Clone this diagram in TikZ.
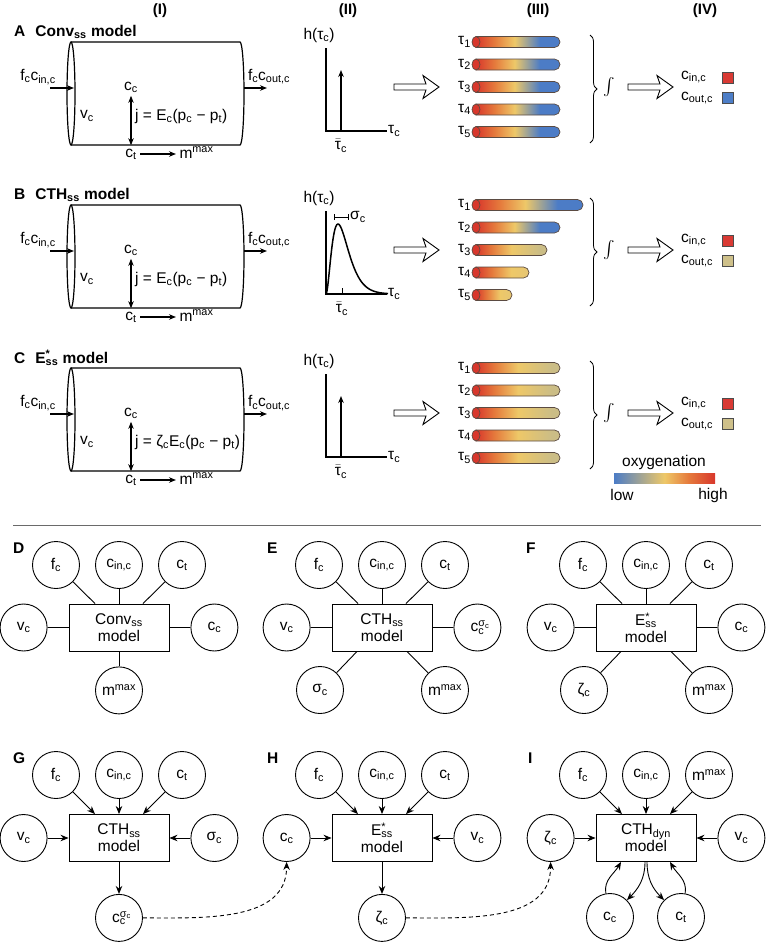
\documentclass[tikz,border=0pt]{standalone}
\usepackage{amsmath}
\usepackage{fontspec}
\setmainfont{Liberation Sans}
\usetikzlibrary{arrows.meta,positioning,calc,decorations.pathreplacing}
\definecolor{tubered}{HTML}{D8372C}
\definecolor{tubeorange}{HTML}{E57A3C}
\definecolor{tubeyellow}{HTML}{EEC868}
\definecolor{tubelight}{HTML}{E6C673}
\definecolor{tubeblue}{HTML}{4C7CC6}
\definecolor{tubekhaki}{HTML}{CBBD86}
\definecolor{tubeedge}{HTML}{5B4B42}
\definecolor{swatchred}{HTML}{D93A34}
\definecolor{swatchblue}{HTML}{4D7EC7}
\definecolor{swatchkhaki}{HTML}{CEC08A}
\definecolor{rulegray}{HTML}{6A6A6A}
\newcommand{\subtxt}[1]{\textsubscript{#1}}
\newcommand{\suptxt}[1]{\textsuperscript{#1}}
\newcommand{\supsub}[2]{\rlap{\textsuperscript{#1}}\textsubscript{#2}}
\newcommand{\taubar}{\ensuremath{\bar{\text{τ}}}}
\pgfdeclarehorizontalshading{tubetoblue}{100bp}{color(0bp)=(tubered); color(25bp)=(tubered); color(36bp)=(tubeorange); color(48bp)=(tubeyellow); color(63bp)=(tubeblue); color(100bp)=(tubeblue)}
\pgfdeclarehorizontalshading{tubetokhaki}{100bp}{color(0bp)=(tubered); color(25bp)=(tubered); color(36bp)=(tubeorange); color(50bp)=(tubeyellow); color(70bp)=(tubekhaki); color(100bp)=(tubekhaki)}
\pgfdeclarehorizontalshading{tubetoyellow}{100bp}{color(0bp)=(tubered); color(25bp)=(tubered); color(40bp)=(tubeorange); color(58bp)=(tubeyellow); color(75bp)=(tubelight); color(100bp)=(tubelight)}
\pgfdeclarehorizontalshading{oxyscale}{100bp}{color(0bp)=(tubeblue); color(25bp)=(tubeblue); color(50bp)=(tubeyellow); color(62bp)=(tubeorange); color(75bp)=(tubered); color(100bp)=(tubered)}
\tikzset{
  colhead/.style={font=\bfseries\fontsize{15}{17}\selectfont},
  paneltag/.style={anchor=west, inner sep=0pt, font=\bfseries\fontsize{15.5}{18}\selectfont},
  cylline/.style={line width=1.2pt},
  flow/.style={-{Stealth[length=7pt,width=5.5pt]}, line width=1.1pt},
  exchange/.style={{Stealth[length=7pt,width=5.5pt]}-{Stealth[length=7pt,width=5.5pt]}, line width=1.1pt},
  axisline/.style={line width=1.1pt},
  tubeshape/.style={draw=tubeedge, line width=0.7pt},
  swatch/.style={draw=black!70, line width=0.6pt, minimum size=11pt, inner sep=0pt},
  varnode/.style={circle, draw, line width=0.9pt, minimum size=47pt, inner sep=0pt},
  modelbox/.style={draw, line width=0.9pt, minimum width=100pt, minimum height=47pt, align=center, inner sep=2pt},
  link/.style={line width=0.9pt},
  feed/.style={link, -{Stealth[length=8pt,width=6.5pt]}},
  relay/.style={feed, dash pattern=on 4pt off 3pt},
  hollowarrow/.pic={
    \draw[line width=0.9pt, fill=white, line join=miter]
      (0,3) -- (32,3) -- (29,11.5) -- (45,0) -- (29,-11.5) -- (32,-3) -- (0,-3) -- cycle;
  }
}

\begin{document}
\begin{tikzpicture}[x=1pt, y=1pt, font=\fontsize{15.5}{17}\selectfont]
\useasboundingbox (0,0) rectangle (766,-943);

% column heads
\foreach \hx/\hname in {160/I,348/II,538/III,705/IV}
  \node[colhead] (head\hname) at (\hx,-11) {(\hname)};

% rows A-C
\foreach \rowtag/\dy/\title/\flux/\tubes/\outcol in {
  A/0/{Conv\subtxt{ss} model}/{j = E\subtxt{c}(p\subtxt{c} − p\subtxt{t})}/{560/tubetoblue,560/tubetoblue,560/tubetoblue,560/tubetoblue,560/tubetoblue}/swatchblue,
  B/-163/{CTH\subtxt{ss} model}/{j = E\subtxt{c}(p\subtxt{c} − p\subtxt{t})}/{583/tubetoblue,560/tubetoblue,547/tubetokhaki,529/tubetoyellow,512/tubetoyellow}/swatchkhaki,
  C/-326/{E\supsub{*}{ss} model}/{j = ζ\subtxt{c}E\subtxt{c}(p\subtxt{c} − p\subtxt{t})}/{560/tubetokhaki,560/tubetokhaki,560/tubetokhaki,560/tubetokhaki,560/tubetokhaki}/swatchkhaki}{
\begin{scope}[yshift=\dy pt]
  \node[paneltag] (tag\rowtag) at (14,-32) {\rowtag\hspace{10pt}\title};
  % (I) vessel
  \draw[cylline] (71,-42) -- (240,-42) arc[start angle=90, end angle=-90, x radius=4, y radius=51.5] -- (71,-145);
  \draw[cylline] (71,-93.5) ellipse[x radius=4, y radius=51.5];
  \node (in\rowtag) at (38,-77) {f\subtxt{c}c\subtxt{in,c}};
  \coordinate (inS\rowtag) at (50,-88);
  \coordinate (inE\rowtag) at (74,-88);
  \draw[flow] (inS\rowtag) -- (inE\rowtag);
  \node (out\rowtag) at (269,-77) {f\subtxt{c}c\subtxt{out,c}};
  \coordinate (outS\rowtag) at (244,-88);
  \coordinate (outE\rowtag) at (267,-88);
  \draw[flow] (outS\rowtag) -- (outE\rowtag);
  \node (vc\rowtag) at (87,-116) {v\subtxt{c}};
  \node (cc\rowtag) at (131,-87) {c\subtxt{c}};
  \node (ct\rowtag) at (131,-154) {c\subtxt{t}};
  \draw[exchange] (cc\rowtag) -- (ct\rowtag);
  \node[anchor=west, inner sep=1pt] (flux\rowtag) at (134,-116) {\flux};
  \node[anchor=base west] (mm\rowtag) at (176,-158) {m\suptxt{max}};
  \draw[flow] (ct\rowtag.east) -- (ct\rowtag.east -| mm\rowtag.west);
  % (II) axes
  \node (h\rowtag) at (319,-35) {h(τ\subtxt{c})};
  \draw[axisline] (326,-48) -- (326,-131) -- (387,-131);
  \node[anchor=west, inner sep=1pt] (tauc\rowtag) at (387,-131) {τ\subtxt{c}};
  \pic at (394,-87) {hollowarrow};
  % (III) tubes
  \foreach \tx/\tshade [count=\i] in \tubes {
    \pgfmathsetmacro{\ty}{-42-22.5*(\i-1)}
    \shadedraw[tubeshape, shading=\tshade] (476,\ty+5.5) -- (\tx-5.5,\ty+5.5)
      arc[start angle=90, end angle=-90, radius=5.5] -- (476,\ty-5.5) -- cycle;
    \filldraw[tubeshape, fill=tubered] (476,\ty) ellipse[x radius=4, y radius=5.5];
    \node[anchor=east, inner sep=1pt] (tau\rowtag\i) at (472,\ty) {τ\subtxt{\i}};
  }
  \draw[line width=0.8pt, decorate, decoration={brace, amplitude=7pt}] (590,-35) -- (590,-143);
  \node[font=\fontsize{19}{20}\selectfont] (int\rowtag) at (609,-87) {$\int$};
  \pic at (628,-87) {hollowarrow};
  % (IV) outcome
  \node[anchor=west, inner sep=0pt] (cin\rowtag) at (681,-77) {c\subtxt{in,c}};
  \node[swatch, fill=swatchred] (sqin\rowtag) at (728,-77.5) {};
  \node[anchor=west, inner sep=0pt] (cout\rowtag) at (681,-98) {c\subtxt{out,c}};
  \node[swatch, fill=\outcol] (sqout\rowtag) at (728,-98) {};
\end{scope}
}

% transit time densities
\foreach \rowtag/\dy in {A/0,C/-326} {
\begin{scope}[yshift=\dy pt]
  \draw[flow] (341,-131) -- (341,-70);
  \node (mean\rowtag) at (341,-146) {\taubar\subtxt{c}};
\end{scope}
}
\begin{scope}[yshift=-163pt]
  \draw[line width=1.5pt, domain=0:62, samples=70, smooth]
    plot ({326+\x}, {-131+70*(\x/12)^2*exp(2-\x/6)});
  \draw[line width=0.9pt, {Bar[width=6pt]}-{Bar[width=6pt]}] (334,-54) -- (349,-54);
  \node[anchor=west, inner sep=1pt] (sigB) at (349,-54) {σ\subtxt{c}};
  \draw[line width=0.9pt] (342,-131) -- (342,-125);
  \node (meanB) at (342,-146) {\taubar\subtxt{c}};
\end{scope}

% oxygenation scale
\shade[shading=oxyscale] (614,-473) rectangle (715,-483);
\node (oxy) at (664,-462) {oxygenation};
\node (low) at (622,-495) {low};
\node (high) at (713,-495) {high};

\draw[rulegray, line width=1pt] (13,-525) -- (761,-525);

% D
\node[paneltag] (tagD) at (13,-548) {D};
\node[modelbox] (Dbox) at (119,-627.5) {Conv\subtxt{ss}\\model};
\node[varnode] (Dfc) at ($(Dbox)+(-63,62.5)$) {f\subtxt{c}};
\node[varnode] (Dcin) at ($(Dbox)+(0,62.5)$) {c\subtxt{in,c}};
\node[varnode] (Dct) at ($(Dbox)+(63,62.5)$) {c\subtxt{t}};
\node[varnode, left=21pt of Dbox] (Dvc) {v\subtxt{c}};
\node[varnode, right=21pt of Dbox] (Dcc) {c\subtxt{c}};
\node[varnode, below=15pt of Dbox] (Dmm) {m\suptxt{max}};
\foreach \n/\dx in {Dfc/-24,Dcin/0,Dct/24}
  \draw[link] (\n) -- ([xshift=\dx pt]Dbox.north);
\foreach \n in {Dvc,Dcc,Dmm}
  \draw[link] (\n) -- (Dbox);

% E
\node[paneltag] (tagE) at (267,-548) {E};
\node[modelbox] (Ebox) at (382,-627.5) {CTH\subtxt{ss}\\model};
\node[varnode] (Efc) at ($(Ebox)+(-63,62.5)$) {f\subtxt{c}};
\node[varnode] (Ecin) at ($(Ebox)+(0,62.5)$) {c\subtxt{in,c}};
\node[varnode] (Ect) at ($(Ebox)+(63,62.5)$) {c\subtxt{t}};
\node[varnode, left=21pt of Ebox] (Evc) {v\subtxt{c}};
\node[varnode, right=21pt of Ebox] (Ecs) {c\supsub{σ\subtxt{c}}{c}};
\node[varnode] (Esig) at ($(Ebox)+(-62,-62.5)$) {σ\subtxt{c}};
\node[varnode] (Emm) at ($(Ebox)+(63,-62.5)$) {m\suptxt{max}};
\foreach \n/\dx in {Efc/-24,Ecin/0,Ect/24}
  \draw[link] (\n) -- ([xshift=\dx pt]Ebox.north);
\foreach \n/\dx in {Esig/-25,Emm/25}
  \draw[link] (\n) -- ([xshift=\dx pt]Ebox.south);
\foreach \n in {Evc,Ecs}
  \draw[link] (\n) -- (Ebox);

% F
\node[paneltag] (tagF) at (526,-548) {F};
\node[modelbox] (Fbox) at (646,-627.5) {E\supsub{*}{ss}\\model};
\node[varnode] (Ffc) at ($(Fbox)+(-63,62.5)$) {f\subtxt{c}};
\node[varnode] (Fcin) at ($(Fbox)+(0,62.5)$) {c\subtxt{in,c}};
\node[varnode] (Fct) at ($(Fbox)+(63,62.5)$) {c\subtxt{t}};
\node[varnode, left=21pt of Fbox] (Fvc) {v\subtxt{c}};
\node[varnode, right=21pt of Fbox] (Fcc) {c\subtxt{c}};
\node[varnode] (Fzc) at ($(Fbox)+(-62,-62.5)$) {ζ\subtxt{c}};
\node[varnode] (Fmm) at ($(Fbox)+(63,-62.5)$) {m\suptxt{max}};
\foreach \n/\dx in {Ffc/-24,Fcin/0,Fct/24}
  \draw[link] (\n) -- ([xshift=\dx pt]Fbox.north);
\foreach \n/\dx in {Fzc/-25,Fmm/25}
  \draw[link] (\n) -- ([xshift=\dx pt]Fbox.south);
\foreach \n in {Fvc,Fcc}
  \draw[link] (\n) -- (Fbox);

% G
\node[paneltag] (tagG) at (13,-758) {G};
\node[modelbox] (Gbox) at (119,-838) {CTH\subtxt{ss}\\model};
\node[varnode] (Gfc) at ($(Gbox)+(-63,63)$) {f\subtxt{c}};
\node[varnode] (Gcin) at ($(Gbox)+(0,63)$) {c\subtxt{in,c}};
\node[varnode] (Gct) at ($(Gbox)+(63,63)$) {c\subtxt{t}};
\node[varnode, left=21pt of Gbox] (Gvc) {v\subtxt{c}};
\node[varnode, right=21pt of Gbox] (Gsig) {σ\subtxt{c}};
\node[varnode, below=32pt of Gbox] (Gcs) {c\supsub{σ\subtxt{c}}{c}};
\foreach \n/\dx in {Gfc/-24,Gcin/0,Gct/24}
  \draw[feed] (\n) -- ([xshift=\dx pt]Gbox.north);
\draw[feed] (Gvc) -- (Gbox);
\draw[feed] (Gsig) -- (Gbox);
\draw[feed] (Gbox) -- (Gcs);

% H
\node[paneltag] (tagH) at (267,-758) {H};
\node[modelbox] (Hbox) at (382,-838) {E\supsub{*}{ss}\\model};
\node[varnode] (Hfc) at ($(Hbox)+(-63,63)$) {f\subtxt{c}};
\node[varnode] (Hcin) at ($(Hbox)+(0,63)$) {c\subtxt{in,c}};
\node[varnode] (Hct) at ($(Hbox)+(63,63)$) {c\subtxt{t}};
\node[varnode, left=21pt of Hbox] (Hcc) {c\subtxt{c}};
\node[varnode, right=21pt of Hbox] (Hvc) {v\subtxt{c}};
\node[varnode, below=32pt of Hbox] (Hzc) {ζ\subtxt{c}};
\foreach \n/\dx in {Hfc/-24,Hcin/0,Hct/24}
  \draw[feed] (\n) -- ([xshift=\dx pt]Hbox.north);
\draw[feed] (Hcc) -- (Hbox);
\draw[feed] (Hvc) -- (Hbox);
\draw[feed] (Hbox) -- (Hzc);

% I
\node[paneltag] (tagI) at (528,-758) {I};
\node[modelbox] (Ibox) at (646,-838) {CTH\subtxt{dyn}\\model};
\node[varnode] (Ifc) at ($(Ibox)+(-63,63)$) {f\subtxt{c}};
\node[varnode] (Icin) at ($(Ibox)+(0,63)$) {c\subtxt{in,c}};
\node[varnode] (Imm) at ($(Ibox)+(63,63)$) {m\suptxt{max}};
\node[varnode, left=21pt of Ibox] (Izc) {ζ\subtxt{c}};
\node[varnode, right=21pt of Ibox] (Ivc) {v\subtxt{c}};
\node[varnode] (Icc) at ($(Ibox)+(-36,-79)$) {c\subtxt{c}};
\node[varnode] (Ict) at ($(Ibox)+(35,-79)$) {c\subtxt{t}};
\foreach \n/\dx in {Ifc/-24,Icin/0,Imm/24}
  \draw[feed] (\n) -- ([xshift=\dx pt]Ibox.north);
\draw[feed] (Izc) -- (Ibox);
\draw[feed] (Ivc) -- (Ibox);
\draw[feed] (Icc) to[out=100, in=-120] ([xshift=-25pt]Ibox.south);
\draw[feed] ([xshift=-1pt]Ibox.south) to[out=-90, in=45] (Icc);
\draw[feed] ([xshift=1pt]Ibox.south) to[out=-90, in=135] (Ict);
\draw[feed] (Ict) to[out=80, in=-60] ([xshift=24pt]Ibox.south);

% hand-over between models
\draw[relay] (Gcs) to[out=0, in=-90] (Hcc);
\draw[relay] (Hzc) to[out=0, in=-90] (Izc);
\end{tikzpicture}
\end{document}
